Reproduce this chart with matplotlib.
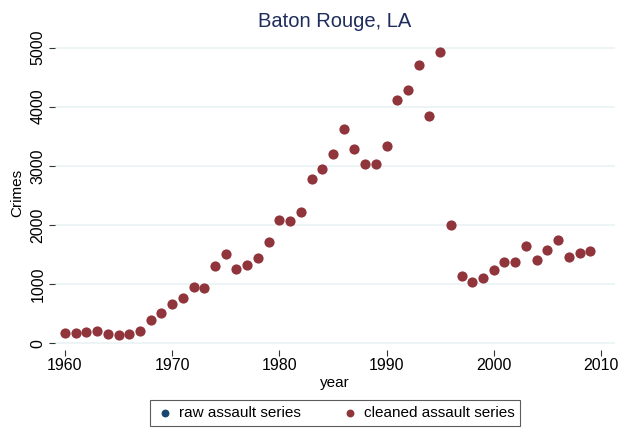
import matplotlib
matplotlib.use('Agg')
import matplotlib.pyplot as plt

plt.rcParams['font.family'] = ['Liberation Sans', 'DejaVu Sans']

years = list(range(1960, 2010))
cleaned = [170, 165, 185, 205, 150, 140, 155, 205, 390, 510,
           660, 760, 950, 930, 1300, 1510, 1250, 1330, 1440, 1710,
           2080, 2070, 2210, 2770, 2950, 3200, 3630, 3290, 3030, 3030,
           3340, 4110, 4280, 4700, 3840, 4920, 2000, 1130, 1030, 1100,
           1240, 1370, 1370, 1640, 1410, 1570, 1750, 1450, 1520, 1560]
# el raw queda tapado por el cleaned en la imagen
raw = list(cleaned)

navy = '#1a476f'
maroon = '#90353b'
grid_color = '#eaf2f3'

fig = plt.figure(figsize=(6.36, 4.36), dpi=100)
ax = fig.add_axes([0.0865, 0.197, 0.8805, 0.7225])

ax.scatter(years, raw, s=40, color=navy, linewidths=0, label='raw assault series', zorder=3)
ax.scatter(years, cleaned, s=54, color=maroon, linewidths=0, label='cleaned assault series', zorder=4)

ax.set_xlim(1959.07, 2011.31)
ax.set_ylim(-118, 5211)
ax.set_xticks([1960, 1970, 1980, 1990, 2000, 2010])
ax.set_yticks([0, 1000, 2000, 3000, 4000, 5000])
ax.set_yticklabels(['0', '1000', '2000', '3000', '4000', '5000'], rotation=90, va='center')
ax.grid(axis='y', color=grid_color, linewidth=1.2)
ax.set_axisbelow(True)
for sp in ax.spines.values():
    sp.set_visible(False)
ax.tick_params(axis='both', direction='out', length=4, width=0.8, color='#333333',
               labelsize=11.5, labelcolor='black')
ax.tick_params(axis='y', pad=3)
ax.tick_params(axis='x', pad=2)

ax.set_title('Baton Rouge, LA', fontsize=14.5, color='#1e2d5c', pad=6)
ax.set_ylabel('Crimes', fontsize=11)
ax.set_xlabel('year', fontsize=11, labelpad=2)

leg = fig.legend(loc='lower center', bbox_to_anchor=(0.527, 0.005), ncol=2,
                 fontsize=11, frameon=True, fancybox=False,
                 edgecolor='#333333', handletextpad=0.3, columnspacing=2.6,
                 borderpad=0.4, handlelength=1.2)
for h in leg.legend_handles:
    h.set_sizes([32])
leg.get_frame().set_linewidth(0.8)

fig.savefig('out.png', dpi=100, facecolor='white')
